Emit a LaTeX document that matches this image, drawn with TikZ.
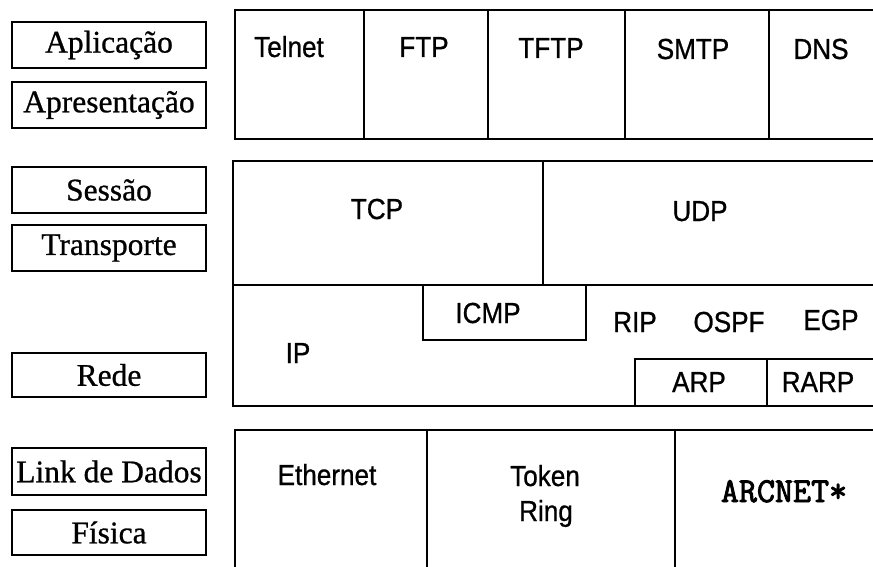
\documentclass[tikz,border=0pt]{standalone}
\usepackage{fontspec}
\setmainfont[FakeBold=0.8]{Liberation Serif}
\newfontfamily\arialf[FakeStretch=0.9,FakeBold=0.8]{Liberation Sans}
\newfontfamily\courf[FakeBold=2.5]{Latin Modern Mono}
\begin{document}
\begin{tikzpicture}[x=1pt,y=-1pt,
  layer/.style={draw,line width=1.4pt,minimum width=194pt,minimum height=46pt,inner sep=0pt,
    font=\fontsize{31.5}{34}\selectfont},
  proto/.style={anchor=base,inner sep=0pt,font=\arialf\fontsize{29}{32}\selectfont},
  grid/.style={line width=1.4pt}]
\useasboundingbox (0,0) rectangle (873,567);
% OSI layers
\node[layer] (apl) at (109,45) {Aplicação};
\node[layer] (apr) at (109,105) {Apresentação};
\node[layer] (ses) at (109,190) {Sessão};
\node[layer] (tra) at (109,248) {Transporte};
\node[layer,minimum height=44pt] (red) at (109,375) {Rede};
\node[layer,minimum height=47pt] (lnk) at (109,471.5) {Link de Dados};
\node[layer,minimum height=45pt] (fis) at (109,532.5) {Física};
% application block
\draw[grid] (873,10) -- (235,10) -- (235,139) -- (873,139);
\draw[grid] (364,10) -- (364,139) (488,10) -- (488,139) (625,10) -- (625,139) (769,10) -- (769,139);
% transport / network block
\draw[grid] (873,161) -- (233,161) -- (233,406) -- (873,406);
\draw[grid] (233,285) -- (873,285) (543,161) -- (543,285);
\draw[grid] (423,285) -- (423,340) -- (586,340) -- (586,285);
\draw[grid] (635,406) -- (635,359) -- (873,359) (767,359) -- (767,406);
% link block
\draw[grid] (235,567) -- (235,430) -- (873,430);
\draw[grid] (427,430) -- (427,567) (675,430) -- (675,567);
% labels
\node[proto] (telnet) at (289,57) {Telnet};
\node[proto] (ftp) at (424,57) {FTP};
\node[proto] (tftp) at (551,58) {TFTP};
\node[proto] (smtp) at (693,59) {SMTP};
\node[proto] (dns) at (821,59) {DNS};
\node[proto] (tcp) at (377,219) {TCP};
\node[proto] (udp) at (700,221) {UDP};
\node[proto] (icmp) at (488,323) {ICMP};
\node[proto] (ip) at (298,363) {IP};
\node[proto] (rip) at (635,332) {RIP};
\node[proto] (ospf) at (729,332) {OSPF};
\node[proto] (egp) at (831,330) {EGP};
\node[proto] (arp) at (699,392) {ARP};
\node[proto] (rarp) at (818,392) {RARP};
\node[proto] (eth) at (327,485) {Ethernet};
\node[proto] (tok) at (545,486) {Token};
\node[proto] (ring) at (546,521) {Ring};
\node[anchor=base,inner sep=0pt,font=\courf\fontsize{35}{38}\selectfont] (arc) at (784,502) {ARCNET*};
\end{tikzpicture}
\end{document}
